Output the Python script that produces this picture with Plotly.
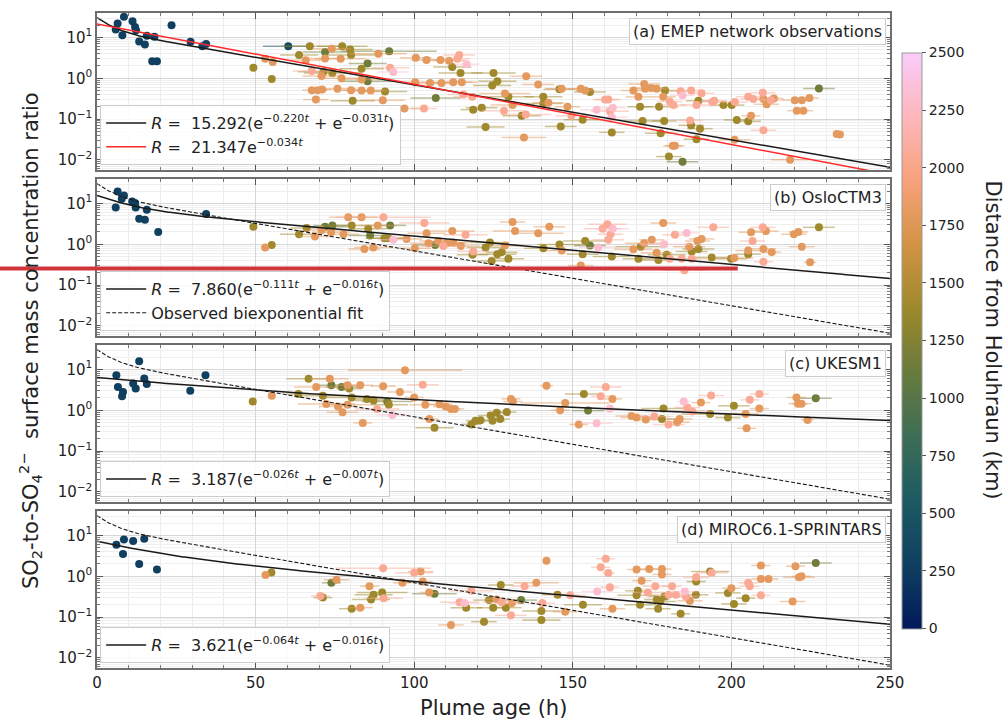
import numpy as np
import plotly.graph_objects as go
from plotly.subplots import make_subplots
from plotly.colors import sample_colorscale, unlabel_rgb

# ---------------- colour map (batlow) ----------------
batlow = ["#011959", "#103F60", "#1C5A62", "#3C6D56", "#687B3E",
          "#9D892B", "#D29343", "#F8A17B", "#FDB7BC", "#FACCFA"]
colorscale = [[i / 9, c] for i, c in enumerate(batlow)]

# distance codes (km)
B, L, G, O, R, S, P = 280, 400, 1150, 1400, 1800, 2050, 2300

# ---------------- panel (a) EMEP observations ----------------
a_pts = [
    (5.9, 15.7, B, 0), (6.5, 22, B, 0), (8.0, 11.4, B, 0), (8.5, 32, B, 0), (11.2, 25, B, 0),
    (12.0, 18, B, 0), (12.3, 15, B, 0), (13.3, 8, B, 0), (15.1, 6.7, B, 0), (15.7, 11, B, 0),
    (18.1, 10.4, B, 0), (17.4, 2.6, B, 0), (18.9, 2.6, B, 0), (23.5, 20, B, 0), (29.5, 7.8, B, 0),
    (33.2, 6.1, B, 0), (34.4, 6.9, B, 0),
    (60.3, 6.1, L, 8), (67.1, 6.1, O, 9), (77.3, 6.1, O, 8), (63.7, 3.7, O, 6), (71.9, 4.4, G, 7),
    (74.0, 5.3, R, 6), (79.8, 5.1, O, 7), (80.1, 3.7, O, 8), (65.8, 2.77, R, 5), (71.9, 3.05, R, 6),
    (76.8, 3.0, R, 8), (88.7, 3.96, R, 9), (92.1, 4.6, G, 15), (85.3, 2.3, G, 6), (83.4, 1.7, O, 7),
    (92.4, 1.8, S, 6), (93.4, 1.43, P, 5), (100.5, 3.2, R, 5), (103.9, 2.8, R, 5), (108.3, 2.8, R, 6),
    (111.0, 2.7, R, 5), (113.6, 3.0, S, 4), (114.2, 3.7, S, 5), (116.5, 2.2, P, 4), (112.0, 1.9, O, 6),
    (114.6, 1.35, O, 7), (125.0, 1.35, O, 7), (67.7, 1.5, S, 6), (70.8, 1.14, R, 6), (71.4, 1.45, O, 8),
    (74.2, 1.35, O, 9), (77.1, 1.0, R, 7), (85.3, 0.84, G, 8), (83.4, 0.93, R, 6), (67.7, 0.51, R, 3),
    (69.6, 0.51, R, 3), (71.0, 0.53, R, 3), (75.8, 0.55, R, 6), (80.1, 0.51, R, 5), (83.4, 0.5, R, 6),
    (86.3, 0.5, R, 5), (90.8, 0.47, O, 7), (69.0, 0.30, R, 4), (80.6, 0.28, O, 7), (90.1, 0.29, R, 7),
    (106.8, 0.33, G, 8), (96.9, 0.18, R, 5), (103.1, 0.18, S, 4), (118.3, 0.35, S, 6), (118.6, 0.17, O, 4),
    (121.3, 0.19, O, 5), (122.5, 0.064, O, 6), (124.6, 0.66, O, 6), (112.3, 0.8, R, 6), (115.0, 0.8, R, 5),
    (115.5, 0.4, S, 5), (100.3, 0.8, R, 4), (105.0, 0.77, R, 6), (108.6, 0.77, R, 5), (49.3, 1.8, O, 0),
    (53.0, 3.0, R, 0), (55.4, 2.5, R, 0), (55.1, 0.96, O, 0),
    (126.2, 0.84, O, 6), (128.6, 0.42, R, 8), (129.7, 0.35, O, 8), (131.0, 0.22, R, 7), (128.3, 0.16, S, 7),
    (133.9, 0.12, O, 6), (135.2, 0.13, S, 8), (135.3, 1.12, R, 5), (139.1, 0.7, R, 5), (140.7, 0.35, O, 6),
    (140.7, 0.24, O, 6), (142.3, 0.25, R, 5), (145.8, 0.54, O, 5), (146.5, 0.55, R, 5), (148.3, 0.2, R, 4),
    (149.6, 0.12, S, 5), (153.1, 0.096, O, 6), (152.5, 0.55, R, 4), (153.9, 0.5, R, 3), (155.4, 0.46, O, 5),
    (146.2, 0.066, O, 5), (134.6, 0.035, R, 7), (157.5, 0.17, P, 5), (160.2, 0.3, S, 4), (161.2, 0.3, S, 4),
    (161.7, 0.155, S, 6), (162.3, 0.11, P, 5), (162.6, 0.19, P, 4), (162.3, 0.047, O, 4), (169.1, 0.5, R, 4),
    (170.7, 0.35, R, 4), (171.2, 0.2, O, 4), (172.0, 0.09, O, 6), (172.5, 0.72, R, 5), (172.8, 0.55, R, 4),
    (174.6, 0.58, R, 5), (176.4, 0.55, R, 4), (177.2, 0.2, O, 6), (177.7, 0.045, O, 5), (178.5, 0.35, R, 4),
    (178.8, 0.09, O, 4), (179.1, 0.5, O, 5), (180.6, 0.27, S, 4), (181.7, 0.22, S, 4), (184.0, 0.48, S, 4),
    (184.6, 0.38, P, 4), (187.3, 0.5, S, 4), (187.3, 0.07, O, 4), (187.0, 0.092, S, 4), (189.6, 0.28, O, 4),
    (189.0, 0.22, S, 5), (190.1, 0.058, O, 4), (190.6, 0.43, S, 4), (181.5, 0.022, R, 3), (182.2, 0.022, R, 3),
    (180.3, 0.012, O, 4), (184.6, 0.009, G, 5), (189.0, 0.032, O, 4), (194.0, 0.26, S, 4), (194.6, 0.28, S, 4),
    (197.5, 0.22, O, 4), (200.1, 0.22, O, 4), (201.1, 0.26, S, 4), (201.7, 0.095, O, 4), (205.3, 0.088, O, 4),
    (206.2, 0.12, R, 3), (205.3, 0.35, S, 4), (206.9, 0.31, S, 4), (209.9, 0.44, S, 4), (210.1, 0.31, R, 4),
    (211.1, 0.23, R, 4), (212.5, 0.29, S, 4), (213.4, 0.32, R, 3), (210.1, 0.053, S, 4), (201.0, 0.031, R, 5),
    (218.5, 0.01, R, 6), (220.0, 0.29, R, 4), (222.2, 0.29, R, 3), (220.6, 0.16, R, 3), (222.7, 0.16, R, 3),
    (224.6, 0.33, R, 3), (227.6, 0.56, G, 5), (233.2, 0.043, R, 1), (234.2, 0.042, R, 1),
]

# ---------------- panel (b) OsloCTM3 ----------------
b_pts = [
    (6.5, 19.7, B, 0), (5.9, 8, B, 0), (7.8, 13, B, 0), (8.5, 15.7, B, 0), (11.1, 11.2, B, 0),
    (12.0, 10.2, B, 0), (12.2, 8, B, 0), (13.3, 4.2, B, 0), (15.1, 4.0, B, 0), (15.7, 7.0, B, 0),
    (19.3, 2.0, B, 0), (34.4, 5.5, B, 0),
    (49.3, 2.7, O, 0), (53.0, 0.83, R, 0), (55.1, 0.96, O, 0),
    (63.7, 1.76, O, 6), (66.1, 2.5, O, 5), (68.7, 1.55, R, 5), (71.9, 2.7, G, 7), (74.2, 2.9, G, 6),
    (70.8, 2.24, R, 6), (73.8, 1.97, R, 6), (77.7, 1.76, R, 5), (79.2, 4.6, R, 6), (80.3, 2.9, O, 7),
    (83.4, 4.6, R, 5), (84.3, 0.77, R, 5), (85.5, 2.4, O, 6), (86.1, 1.63, G, 7), (87.1, 0.83, R, 6),
    (88.5, 2.9, R, 6), (90.3, 4.6, S, 15), (90.6, 1.4, O, 6), (91.6, 1.4, O, 6), (92.4, 2.9, G, 5),
    (93.4, 1.28, P, 5), (97.6, 1.35, R, 5), (100.2, 0.8, R, 5), (103.2, 3.3, S, 8), (103.9, 1.86, R, 6),
    (104.5, 1.06, R, 6), (106.6, 0.96, G, 7), (107.6, 1.2, R, 6), (109.2, 0.9, S, 7), (110.2, 1.06, R, 6),
    (112.0, 2.1, R, 7), (112.3, 1.1, R, 6), (114.7, 0.9, R, 6), (116.2, 1.7, S, 7), (118.6, 0.66, S, 5),
    (118.4, 0.55, O, 5), (122.5, 0.83, O, 6), (123.9, 1.1, O, 6), (124.4, 0.39, O, 6),
    (126.2, 0.57, O, 6), (127.6, 0.64, O, 5), (128.6, 0.93, R, 5), (129.7, 0.44, O, 5), (131.0, 3.5, R, 4),
    (131.8, 2.1, R, 7), (139.1, 1.86, R, 8), (142.6, 2.7, R, 5), (140.7, 0.8, O, 6), (145.8, 0.98, O, 7),
    (146.5, 0.7, R, 5), (152.5, 0.3, R, 4), (153.1, 0.57, O, 5), (153.9, 1.2, O, 7), (155.4, 0.93, G, 5),
    (158.0, 0.83, P, 6), (159.4, 2.4, S, 6), (160.9, 3.1, S, 6), (162.6, 2.4, P, 5), (161.9, 1.76, S, 4),
    (161.2, 1.28, S, 5), (162.3, 0.5, O, 6), (169.1, 0.75, R, 6), (170.7, 0.44, O, 5), (171.4, 0.87, O, 8),
    (172.5, 1.06, R, 6), (174.9, 1.28, R, 4), (176.4, 0.62, R, 5), (177.0, 0.41, O, 6), (178.5, 3.3, R, 4),
    (178.8, 1.0, P, 8), (179.6, 0.55, O, 6), (180.6, 0.44, S, 5), (182.2, 1.7, S, 4), (184.3, 0.44, S, 5),
    (185.2, 0.23, S, 7), (185.9, 1.9, P, 4), (186.7, 0.87, R, 5), (187.5, 0.44, S, 5), (187.5, 0.66, O, 5),
    (189.3, 1.2, R, 4), (189.6, 0.77, O, 5), (190.6, 1.35, R, 4), (194.3, 2.6, S, 5), (193.8, 0.47, O, 6),
    (199.9, 0.44, O, 5), (200.9, 0.46, R, 6), (205.3, 0.7, R, 4), (205.3, 0.57, O, 4), (206.2, 1.97, R, 4),
    (206.7, 1.2, S, 4), (209.9, 2.6, S, 4), (210.9, 2.1, R, 4), (210.1, 0.77, R, 4), (212.7, 0.64, R, 3),
    (210.1, 0.37, S, 3), (219.7, 1.76, R, 4), (221.1, 2.0, R, 3), (222.2, 0.87, R, 4), (224.8, 0.36, R, 2),
    (227.6, 2.6, O, 5),
]

# ---------------- panel (c) UKESM1 ----------------
c_pts = [
    (6.1, 7.2, B, 0), (6.6, 3.7, B, 0), (8.2, 2.8, B, 0), (7.9, 2.2, B, 0), (11.4, 4.5, B, 0),
    (12.2, 3.4, B, 0), (13.3, 16, B, 0), (14.9, 6, B, 0), (15.7, 4.4, B, 0), (29.4, 3.0, B, 0),
    (34.2, 7.2, B, 0),
    (49.1, 1.64, O, 0), (55.1, 2.27, R, 0), (63.5, 2.5, O, 4), (66.7, 5.9, O, 7), (73.4, 5.9, R, 6),
    (69.1, 3.7, R, 7), (73.9, 4.1, G, 5), (77.1, 3.7, G, 5), (79.0, 4.1, R, 4), (79.5, 3.4, O, 4),
    (83.0, 4.1, R, 4), (90.2, 3.9, R, 4), (97.1, 9.6, R, 18), (102.7, 4.2, S, 5), (95.5, 2.8, R, 4),
    (100.0, 2.06, R, 3), (71.2, 2.27, O, 7), (80.3, 2.06, O, 10), (85.1, 1.9, O, 6), (87.2, 1.74, O, 6),
    (91.5, 1.64, G, 8), (92.0, 1.36, O, 6), (72.3, 1.42, R, 9), (76.0, 1.23, R, 6), (79.0, 1.36, R, 7),
    (77.4, 0.89, R, 5), (88.3, 1.08, S, 7), (93.1, 0.77, P, 5), (83.8, 0.49, R, 3), (103.5, 1.36, R, 5),
    (108.0, 1.4, R, 4), (110.0, 1.23, R, 4), (111.6, 1.08, R, 3), (112.8, 1.08, R, 3), (104.8, 0.61, R, 3),
    (106.4, 0.37, O, 6), (118.0, 0.45, O, 3), (119.3, 0.55, O, 3), (120.9, 0.57, O, 3), (124.1, 0.74, O, 4),
    (124.7, 0.55, O, 4), (126.0, 0.87, O, 3), (127.1, 0.61, O, 3), (129.2, 0.9, O, 3), (130.5, 1.9, R, 3),
    (131.1, 1.64, R, 3), (141.7, 4.0, R, 2), (146.0, 1.0, R, 3), (147.6, 1.5, R, 14), (151.9, 0.45, R, 3),
    (153.5, 2.5, O, 6), (154.8, 0.98, G, 5), (157.5, 0.48, P, 5), (158.8, 2.2, S, 3), (160.4, 3.7, S, 5),
    (161.7, 1.1, P, 3), (162.5, 1.9, R, 3), (168.5, 0.72, R, 5), (170.1, 0.66, R, 5), (173.0, 0.59, R, 4),
    (175.7, 0.7, S, 5), (178.6, 1.1, O, 7), (178.1, 0.61, O, 6), (180.2, 0.45, S, 5), (182.9, 0.51, R, 4),
    (183.7, 0.61, R, 4), (185.0, 1.64, P, 2), (186.1, 1.17, S, 4), (187.7, 0.93, S, 6), (190.4, 1.54, R, 3),
    (193.3, 0.81, O, 9), (193.6, 2.3, S, 4), (198.9, 0.66, O, 4), (200.8, 1.28, O, 5), (204.5, 0.81, R, 4),
    (204.8, 0.36, R, 3), (205.8, 1.8, S, 3), (208.8, 1.1, R, 3), (208.8, 2.5, S, 3), (220.5, 2.06, R, 3),
    (221.0, 1.45, R, 3), (222.1, 1.45, R, 3), (224.0, 0.58, R, 2), (226.6, 1.98, G, 5),
]

# ---------------- panel (d) MIROC6.1-SPRINTARS ----------------
d_pts = [
    (6.1, 5.9, B, 0), (8.2, 3.5, B, 0), (8.5, 8, B, 0), (11.4, 7.3, B, 0), (13.3, 2.0, B, 0),
    (14.9, 8.3, B, 0), (18.9, 1.46, B, 0),
    (53.1, 1.08, R, 0), (55.0, 1.23, O, 0), (70.4, 0.33, S, 3), (71.2, 0.30, O, 3), (73.9, 0.69, G, 3),
    (75.5, 0.82, R, 4), (80.3, 0.16, O, 4), (83.0, 0.17, R, 4), (85.9, 0.57, R, 3), (86.4, 0.27, O, 6),
    (87.2, 0.35, O, 6), (89.9, 0.4, O, 8), (90.4, 0.29, S, 6), (90.2, 1.57, S, 15), (100.0, 1.22, S, 6),
    (102.0, 1.3, R, 4), (96.3, 0.69, R, 3), (102.7, 0.74, R, 3), (104.7, 0.4, R, 3), (106.4, 0.37, G, 7),
    (111.6, 0.064, R, 4), (114.3, 0.23, S, 6), (115.9, 0.22, P, 5), (116.4, 0.17, O, 5), (118.0, 0.44, S, 7),
    (122.0, 0.077, O, 4), (123.6, 0.26, O, 5), (124.9, 0.17, O, 5), (126.0, 0.27, R, 4), (127.3, 0.61, O, 4),
    (127.6, 0.23, S, 6), (128.9, 0.17, O, 5), (130.5, 0.11, S, 5), (130.8, 0.22, R, 4), (133.7, 0.26, G, 5),
    (134.8, 0.57, S, 4), (138.5, 0.69, R, 7), (140.1, 0.14, O, 6), (140.1, 0.085, O, 6), (141.7, 2.4, R, 1),
    (140.4, 0.22, S, 4), (145.2, 0.35, O, 5), (147.6, 0.135, R, 4), (149.2, 0.34, S, 5), (153.2, 0.2, O, 6),
    (157.7, 0.42, P, 5), (158.8, 1.66, S, 3), (160.4, 2.7, S, 3), (161.2, 1.2, S, 2), (161.7, 0.54, S, 3),
    (162.5, 0.16, R, 4), (170.1, 1.46, R, 3), (170.5, 0.44, O, 4), (170.1, 0.34, O, 6), (171.2, 0.2, O, 5),
    (171.7, 0.78, R, 3), (174.1, 1.5, R, 4), (173.7, 0.4, S, 5), (176.0, 0.57, S, 4), (176.9, 0.16, O, 4),
    (178.1, 1.5, R, 3), (178.1, 1.11, R, 3), (176.5, 0.27, O, 4), (177.6, 0.24, O, 5), (178.9, 0.32, O, 5),
    (180.2, 0.35, S, 4), (181.3, 0.57, S, 3), (182.5, 0.35, S, 4), (184.0, 0.12, O, 3), (185.3, 0.42, P, 4),
    (185.6, 0.32, S, 4), (186.9, 0.25, R, 4), (188.8, 0.35, O, 4), (188.9, 0.74, O, 3), (188.9, 0.95, S, 4),
    (193.3, 1.3, O, 6), (193.8, 1.22, S, 5), (198.9, 0.39, O, 4), (200.0, 0.51, R, 3), (200.8, 0.21, O, 4),
    (204.5, 0.29, O, 3), (205.3, 0.69, S, 3), (205.8, 0.57, S, 3), (209.3, 0.86, R, 3), (209.3, 1.84, R, 3),
    (209.3, 0.34, S, 3), (211.7, 0.86, R, 3), (219.3, 0.24, R, 4), (220.2, 1.77, R, 3), (221.3, 0.95, R, 5),
    (222.1, 1.0, R, 3), (226.6, 2.1, G, 5),
]

# fit parameters (from legends)
obs_fit = (15.292, 0.220, 0.031)
obs_mono = (21.347, 0.034)
model_fits = {2: (7.860, 0.111, 0.016), 3: (3.187, 0.026, 0.007), 4: (3.621, 0.064, 0.016)}
panel_titles = ["(a) EMEP network observations", "(b) OsloCTM3", "(c) UKESM1", "(d) MIROC6.1-SPRINTARS"]

# overlay red marker line on panel (b)
redline_ratio = 0.255
redline_age_end = 202

FONT = "DejaVu Sans"
fig = make_subplots(rows=4, cols=1, shared_xaxes=True, vertical_spacing=9 / 655)


def add_points(row, pts):
    dists = sorted(set(p[2] for p in pts))
    for d in dists:
        sel = [p for p in pts if p[2] == d]
        rgb = unlabel_rgb(sample_colorscale(colorscale, d / 2500)[0])
        ecol = "rgba(%d,%d,%d,0.5)" % tuple(int(round(v)) for v in rgb)
        fig.add_trace(go.Scatter(
            x=[p[0] for p in sel], y=[p[1] for p in sel], mode="markers",
            marker=dict(size=8, color=[d] * len(sel), coloraxis="coloraxis", line=dict(width=0)),
            error_x=dict(type="data", array=[p[3] for p in sel], color=ecol, thickness=1.5, width=0),
            showlegend=False, hoverinfo="skip"), row=row, col=1)


def biexp_label(a, k1, k2):
    return ("<i>R</i> =  %.3f(e<sup>\u2212%.3f<i>t</i></sup> + e<sup>\u2212%.3f<i>t</i></sup>)" % (a, k1, k2))


t = np.linspace(0, 250, 600)
for row, pts in enumerate([a_pts, b_pts, c_pts, d_pts], start=1):
    add_points(row, pts)

A, k1, k2 = obs_fit
obs_curve = A * (np.exp(-k1 * t) + np.exp(-k2 * t))
fig.add_trace(go.Scatter(x=t, y=obs_curve, mode="lines", line=dict(color="#1a1a1a", width=1.5),
                         name=biexp_label(*obs_fit), legend="legend"), row=1, col=1)
fig.add_trace(go.Scatter(x=t, y=obs_mono[0] * np.exp(-obs_mono[1] * t), mode="lines",
                         line=dict(color="#ff2a2a", width=1.5),
                         name="<i>R</i> =  %.3fe<sup>\u2212%.3f<i>t</i></sup>" % obs_mono, legend="legend"),
              row=1, col=1)
legend_ids = {2: "legend2", 3: "legend3", 4: "legend4"}
for row in (2, 3, 4):
    a_, m1, m2 = model_fits[row]
    fig.add_trace(go.Scatter(x=t, y=a_ * (np.exp(-m1 * t) + np.exp(-m2 * t)), mode="lines",
                             line=dict(color="#1a1a1a", width=1.5), name=biexp_label(a_, m1, m2),
                             legend=legend_ids[row]), row=row, col=1)
    fig.add_trace(go.Scatter(x=t, y=obs_curve, mode="lines",
                             line=dict(color="#1a1a1a", width=1.1, dash="4px,2px"),
                             name="Observed biexponential fit", legend=legend_ids[row],
                             showlegend=(row == 2)), row=row, col=1)

# axes styling
major_y = [0.01, 0.1, 1, 10]
major_y_txt = ["10<sup>\u22122</sup>", "10<sup>\u22121</sup>", "10<sup>0</sup>", "10<sup>1</sup>"]
minor_y = [k * 10.0 ** n for n in range(-3, 2) for k in range(2, 10)]
for row in range(1, 5):
    fig.update_yaxes(type="log", range=[-2.25, 1.6], tickvals=major_y, ticktext=major_y_txt,
                     ticks="inside", ticklen=6, tickwidth=1, tickcolor="#555",
                     showline=True, linecolor="#6e6e6e", linewidth=1.5, mirror="allticks",
                     showgrid=True, gridcolor="#d6d6d6", gridwidth=1, zeroline=False,
                     tickfont=dict(size=15, color="#222", family=FONT),
                     minor=dict(tickmode="array", tickvals=minor_y, ticks="inside", ticklen=3,
                                tickcolor="#777", showgrid=True, gridcolor="#efefef", gridwidth=1),
                     row=row, col=1)
    fig.update_xaxes(range=[0, 250], tickmode="linear", tick0=0, dtick=50,
                     ticks="inside", ticklen=6, tickwidth=1, tickcolor="#555",
                     showline=True, linecolor="#6e6e6e", linewidth=1.5, mirror="allticks",
                     showgrid=True, gridcolor="#d6d6d6", gridwidth=1, zeroline=False,
                     tickfont=dict(size=15, color="#222", family=FONT),
                     showticklabels=(row == 4),
                     minor=dict(dtick=10, ticks="inside", ticklen=3, tickcolor="#777",
                                showgrid=True, gridcolor="#ececec", gridwidth=1),
                     row=row, col=1)

# legends
leg_common = dict(bgcolor="rgba(255,255,255,0.85)", bordercolor="#cccccc", borderwidth=1,
                  font=dict(size=16, color="#222", family=FONT), xanchor="left", yanchor="bottom",
                  x=0.004, tracegroupgap=0, itemwidth=40)
domains = [fig.layout["yaxis%s" % ("" if r == 1 else r)].domain for r in range(1, 5)]
ph = 655.0
layout_legends = {}
for r, name in zip(range(1, 5), ["legend", "legend2", "legend3", "legend4"]):
    layout_legends[name] = dict(leg_common, y=domains[r - 1][0] + 5 / ph)
fig.update_layout(**layout_legends)

annotations = []
for r in range(1, 5):
    annotations.append(dict(text=panel_titles[r - 1], xref="paper", yref="paper", x=0.995,
                            y=domains[r - 1][1] - 5 / ph, xanchor="right", yanchor="top", showarrow=False,
                            font=dict(size=16, color="#222", family=FONT), bgcolor="rgba(255,255,255,0.9)",
                            bordercolor="#cccccc", borderwidth=1, borderpad=3))
annotations.append(dict(text="SO<sub>2</sub>-to-SO<sub>4</sub><sup>2\u2212</sup>  surface mass concentration ratio",
                        xref="paper", yref="paper", x=-0.085, y=0.5, textangle=-90, showarrow=False,
                        xanchor="center", yanchor="middle", font=dict(size=21, color="#222", family=FONT)))
annotations.append(dict(text="Plume age (h)", xref="paper", yref="paper", x=0.5, y=-0.061, showarrow=False,
                        xanchor="center", yanchor="middle", font=dict(size=21, color="#222", family=FONT)))
annotations.append(dict(text="Distance from Holuhraun (km)", xref="paper", yref="paper", x=1.131, y=0.5,
                        textangle=90, showarrow=False, xanchor="center", yanchor="middle",
                        font=dict(size=21, color="#222", family=FONT)))

fig.update_layout(
    width=1008, height=722, margin=dict(l=97, r=118, t=13, b=54),
    paper_bgcolor="white", plot_bgcolor="white",
    font=dict(family=FONT, color="#222"),
    annotations=annotations,
    coloraxis=dict(colorscale=colorscale, cmin=0, cmax=2500,
                   colorbar=dict(x=1.015, xanchor="left", y=0.5, yanchor="middle", len=0.88,
                                 lenmode="fraction", thickness=20, ypad=0, xpad=0,
                                 tickvals=list(range(0, 2501, 250)),
                                 ticks="outside", ticklen=4, tickcolor="#555",
                                 tickfont=dict(size=14, color="#222", family=FONT),
                                 outlinecolor="#999", outlinewidth=1)),
    shapes=[dict(type="line", xref="paper", yref="y2", x0=-0.125, x1=redline_age_end / 250.0,
                 y0=redline_ratio, y1=redline_ratio, line=dict(color="#D1343B", width=4), layer="above")],
    showlegend=True,
)

fig.write_html("out.html")
